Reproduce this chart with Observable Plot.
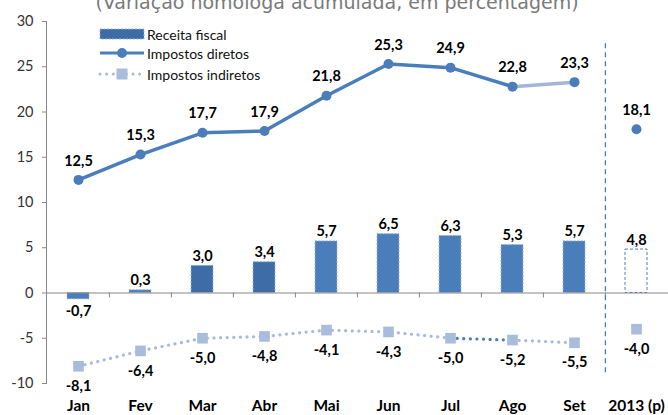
<!DOCTYPE html>
<html>
<head>
<meta charset="utf-8">
<script src="https://cdn.jsdelivr.net/npm/d3@7"></script>
<script src="https://cdn.jsdelivr.net/npm/@observablehq/plot@0.6"></script>
<style>
  html, body { margin: 0; padding: 0; background: #fff; }
  #wrap { position: relative; width: 668px; height: 415px; overflow: hidden; }
  #title { position: absolute; left: 0; width: 668px; top: -9px; text-align: center; padding-left: 6px; box-sizing: border-box;
           font-family: "DejaVu Sans", sans-serif; font-size: 19px; color: #7a7a7a; white-space: nowrap; }
  #legend { position: absolute; left: 98px; top: 22px; }
</style>
</head>
<body>
<div id="wrap">
  <div id="chart"></div>
  <div id="title">(Variação homóloga acumulada, em percentagem)</div>
  <svg id="legend" width="200" height="64" style="font-family: Lato, sans-serif; font-size: 14px;">
    <rect x="2" y="7" width="44" height="10" fill="#3d6ca6" stroke="#9ab3d8" stroke-dasharray="2,1.5"></rect>
    <text x="49" y="12" dominant-baseline="central" fill="#111">Receita fiscal</text>
    <line x1="2" x2="46" y1="31" y2="31" stroke="#4a7ebb" stroke-width="3"></line>
    <circle cx="24" cy="31" r="5" fill="#4a7ebb"></circle>
    <text x="49" y="31" dominant-baseline="central" fill="#111">Impostos diretos</text>
    <line x1="2" x2="46" y1="52" y2="52" stroke="#a9bcdc" stroke-width="3" stroke-linecap="round" stroke-dasharray="0.1,6.5"></line>
    <rect x="18.5" y="46.5" width="11" height="11" fill="#a9bcdc"></rect>
    <text x="49" y="52" dominant-baseline="central" fill="#111">Impostos indiretos</text>
  </svg>
</div>
<script>
const categories = ["Jan", "Fev", "Mar", "Abr", "Mai", "Jun", "Jul", "Ago", "Set", "2013 (p)"];
const receitaFiscal = [-0.7, 0.3, 3.0, 3.4, 5.7, 6.5, 6.3, 5.3, 5.7, 4.8];
const impostosDiretos = [12.5, 15.3, 17.7, 17.9, 21.8, 25.3, 24.9, 22.8, 23.3, 18.1];
const impostosIndiretos = [-8.1, -6.4, -5.0, -4.8, -4.1, -4.3, -5.0, -5.2, -5.5, -4.0];
const yTicks = [-10, -5, 0, 5, 10, 15, 20, 25, 30];

const W = 668, H = 415, ML = 46, MR = 0, MT = 21, MB = 32;
const step = (W - ML - MR) / categories.length;
const fmt = v => v.toFixed(1).replace(".", ",");

const rows = categories.map((c, i) => ({c, i, r: receitaFiscal[i], d: impostosDiretos[i], n: impostosIndiretos[i]}));
const months = rows.slice(0, 9);
const proj = rows.slice(9);

const darkBar = "#3d6ca6", lightBar = "#4a7ebb", blue = "#4a7ebb", pale = "#a9bcdc";
const labelFont = {fontSize: 14.5, fontWeight: "bold", fill: "#000"};

const chart = Plot.plot({
  width: W, height: H,
  marginLeft: ML, marginRight: MR, marginTop: MT, marginBottom: MB,
  style: {fontFamily: "Lato, sans-serif", background: "#fff", overflow: "visible"},
  x: {type: "band", domain: categories, paddingInner: 0.64, paddingOuter: 0.32, label: null},
  y: {domain: [-10, 30], label: null},
  marks: [
    Plot.axisY({ticks: yTicks, tickSize: 4, tickPadding: 9, fontSize: 14.5, stroke: "#888", color: "#333", tickFormat: d => String(d), label: null}),
    Plot.frame({anchor: "left", stroke: "#888"}),
    Plot.axisX({tickSize: 0, tickPadding: 16, fontSize: 15.5, fontWeight: "bold", color: "#000", label: null}),
    // bars
    Plot.barY(months, {x: "c", y: "r", fill: d => d.i >= 2 && d.i <= 3 ? darkBar : lightBar, stroke: "#9ab3d8", strokeWidth: 1, strokeDasharray: "2,1.5"}),
    Plot.barY(proj, {x: "c", y: "r", fill: "#fff", stroke: blue, strokeWidth: 1, strokeDasharray: "3,2"}),
    // zero line and band boundary ticks
    Plot.ruleY([0], {stroke: "#888", strokeWidth: 1}),
    Plot.ruleX(categories.slice(1), {x: d => d, y1: 0, y2: -0.55, dx: -step / 2, stroke: "#888"}),
    // separator
    Plot.ruleX([categories[9]], {x: d => d, y1: -8.8, y2: 27.7, dx: -step / 2, stroke: blue, strokeWidth: 1.3, strokeDasharray: "5,4"}),
    // impostos indiretos
    Plot.line(rows.slice(0, 7), {x: "c", y: "n", stroke: pale, strokeWidth: 3.2, strokeLinecap: "round", strokeDasharray: "0.1,6.5"}),
    Plot.line(rows.slice(6, 8), {x: "c", y: "n", stroke: blue, strokeWidth: 3.2, strokeLinecap: "round", strokeDasharray: "0.1,6.5"}),
    Plot.line(rows.slice(7, 9), {x: "c", y: "n", stroke: pale, strokeWidth: 3.2, strokeLinecap: "round", strokeDasharray: "0.1,6.5"}),
    Plot.dot(rows, {x: "c", y: "n", symbol: "square", r: 6, fill: pale}),
    // impostos diretos
    Plot.line(rows.slice(0, 8), {x: "c", y: "d", stroke: blue, strokeWidth: 3.5}),
    Plot.line(rows.slice(7, 9), {x: "c", y: "d", stroke: "#a3b6d6", strokeWidth: 3.5}),
    Plot.dot(rows, {x: "c", y: "d", r: 5, fill: blue}),
    // labels
    Plot.text(rows, {x: "c", y: "d", text: d => fmt(d.d), dy: -19, ...labelFont}),
    Plot.text(rows, {x: "c", y: "r", text: d => fmt(d.r), lineAnchor: "bottom", ...labelFont,
      filter: d => d.r >= 0, dy: -5}),
    Plot.text(rows, {x: "c", y: "r", text: d => fmt(d.r), lineAnchor: "top", ...labelFont,
      filter: d => d.r < 0, dy: 6}),
    Plot.text(rows, {x: "c", y: "n", text: d => fmt(d.n), dy: 20, ...labelFont})
  ]
});
document.getElementById("chart").appendChild(chart);
</script>
</body>
</html>
